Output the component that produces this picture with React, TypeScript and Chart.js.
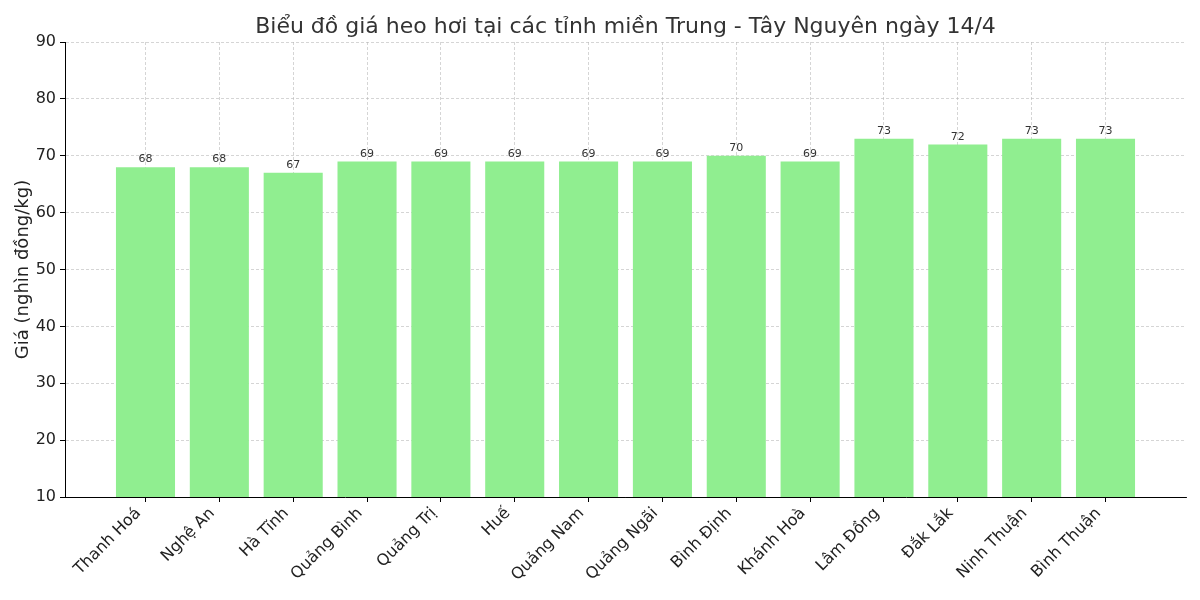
import React, { useEffect, useRef } from "react";
import { Chart, registerables } from "chart.js";

Chart.register(...registerables);

const chartTitle = "Biểu đồ giá heo hơi tại các tỉnh miền Trung - Tây Nguyên ngày 14/4";
const yAxisLabel = "Giá (nghìn đồng/kg)";
const provinces = [
  "Thanh Hoá",
  "Nghệ An",
  "Hà Tĩnh",
  "Quảng Bình",
  "Quảng Trị",
  "Huế",
  "Quảng Nam",
  "Quảng Ngãi",
  "Bình Định",
  "Khánh Hoà",
  "Lâm Đồng",
  "Đắk Lắk",
  "Ninh Thuận",
  "Bình Thuận",
];
const prices = [68, 68, 67, 69, 69, 69, 69, 69, 70, 69, 73, 72, 73, 73];
const yMin = 10;
const yMax = 90;
const yStep = 10;

const FONT = "'DejaVu Sans', sans-serif";

const valueLabels = {
  id: "valueLabels",
  afterDraw(chart: any) {
    const ctx = chart.ctx;
    const meta = chart.getDatasetMeta(0);
    ctx.save();
    ctx.font = `11px ${FONT}`;
    ctx.fillStyle = "#333";
    ctx.textAlign = "center";
    ctx.textBaseline = "bottom";
    meta.data.forEach((bar: any, i: number) => {
      ctx.fillText(String(prices[i]), bar.x, bar.y - 2);
    });
    // title centered over the plot area
    const area = chart.chartArea;
    ctx.font = `22px ${FONT}`;
    ctx.fillStyle = "#333";
    ctx.textBaseline = "middle";
    ctx.fillText(chartTitle, (area.left + area.right) / 2, 27);
    ctx.restore();
  },
};

const gridOpts = {
  color: "rgba(180,180,180,0.7)",
  lineWidth: 0.8,
  borderDash: [3, 2],
  tickColor: "#000",
  tickLength: 5,
  tickBorderDash: [],
  tickWidth: 1,
  offset: false,
};

export default function App() {
  const ref = useRef<HTMLCanvasElement | null>(null);
  useEffect(() => {
    if (!ref.current) return;
    const chart = new Chart(ref.current, {
      type: "bar",
      data: {
        datasets: [
          {
            data: prices.map((v, i) => ({ x: i, y: v })),
            backgroundColor: "#90EE90",
            borderWidth: 0,
            barPercentage: 0.8,
            categoryPercentage: 1,
          },
        ],
      },
      options: {
        animation: false,
        responsive: false,
        devicePixelRatio: 1,
        layout: { padding: { left: 0, right: 14, top: 42, bottom: 0 } },
        plugins: {
          legend: { display: false },
          tooltip: { enabled: false },
          title: { display: false },
        },
        scales: {
          x: {
            type: "linear",
            min: -1.09,
            max: 14.09,
            offset: false,
            z: 1,
            afterBuildTicks: (scale: any) => {
              scale.ticks = provinces.map((_, i) => ({ value: i }));
            },
            afterFit: (scale: any) => {
              scale.height = 103;
            },
            ticks: {
              autoSkip: false,
              minRotation: 45,
              maxRotation: 45,
              color: "#222",
              font: { family: FONT, size: 16 },
              padding: 2,
              labelOffset: -7,
              callback: (value: any) => provinces[Math.round(value)] ?? "",
            },
            grid: gridOpts,
            border: { display: true, color: "#000", width: 1, dash: [3, 2] },
          },
          y: {
            min: yMin,
            max: yMax,
            z: 1,
            afterFit: (scale: any) => {
              scale.width = 65;
            },
            ticks: {
              stepSize: yStep,
              color: "#222",
              font: { family: FONT, size: 16 },
              padding: 4,
            },
            title: {
              display: true,
              text: yAxisLabel,
              color: "#222",
              font: { family: FONT, size: 18 },
              padding: { top: 13, bottom: 0 },
            },
            grid: gridOpts,
            border: { display: true, color: "#000", width: 1, dash: [3, 2] },
          },
        },
      },
      plugins: [valueLabels],
    } as any);
    return () => chart.destroy();
  }, []);
  return (
    <div style={{ position: "absolute", left: 0, top: 0, width: 1200, height: 600, background: "#fff" }}>
      <canvas ref={ref} width={1200} height={600} />
    </div>
  );
}
